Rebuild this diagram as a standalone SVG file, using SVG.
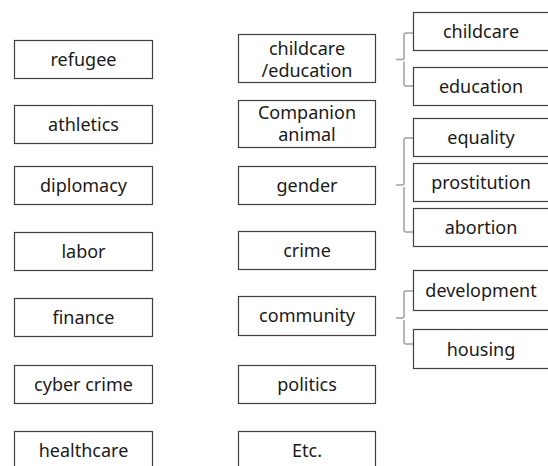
<svg xmlns="http://www.w3.org/2000/svg" width="548" height="466" viewBox="0 0 548 466">
<style>
.b{fill:#fff;stroke:#404040;stroke-width:1.2}
.t{font-family:"Noto Sans","Open Sans",sans-serif;font-size:18px;fill:#1a1a1a;text-anchor:middle}
.c{fill:none;stroke:#a0a0a0;stroke-width:1.5}
</style>
<rect width="548" height="466" fill="#fff"/>
<g id="connectors">
<path class="c" d="M396 59.5H402Q404 59.5 404 57.5V35Q404 33 406 33H413M404 61.5V84Q404 86 406 86H413"/>
<path class="c" d="M396 185H402Q404 185 404 183V140Q404 138 406 138H413M404 187V230Q404 232 406 232H413"/>
<path class="c" d="M396 318H402Q404 318 404 316V293Q404 291 406 291H413M404 320V342Q404 344 406 344H413"/>
</g>
<g id="refugee"><rect class="b" x="14.5" y="40.5" width="138" height="38"/><text class="t" x="83.5" y="66">refugee</text></g>
<g id="athletics"><rect class="b" x="14.5" y="105.5" width="138" height="38"/><text class="t" x="83.5" y="131">athletics</text></g>
<g id="diplomacy"><rect class="b" x="14.5" y="166.5" width="138" height="38"/><text class="t" x="83.5" y="192">diplomacy</text></g>
<g id="labor"><rect class="b" x="14.5" y="232.5" width="138" height="38"/><text class="t" x="83.5" y="258">labor</text></g>
<g id="finance"><rect class="b" x="14.5" y="298.5" width="138" height="38"/><text class="t" x="83.5" y="324">finance</text></g>
<g id="cybercrime"><rect class="b" x="14.5" y="365.5" width="138" height="38"/><text class="t" x="83.5" y="391">cyber crime</text></g>
<g id="healthcare"><rect class="b" x="14.5" y="431.5" width="138" height="40"/><text class="t" x="83.5" y="457">healthcare</text></g>
<g id="childcare-education"><rect class="b" x="238.5" y="34.5" width="137" height="48"/><text class="t" x="307" y="55">childcare</text><text class="t" x="307" y="77">/education</text></g>
<g id="companion-animal"><rect class="b" x="238.5" y="100.5" width="137" height="47"/><text class="t" x="307" y="119">Companion</text><text class="t" x="307" y="141">animal</text></g>
<g id="gender"><rect class="b" x="238.5" y="166.5" width="137" height="38"/><text class="t" x="307" y="192">gender</text></g>
<g id="crime"><rect class="b" x="238.5" y="231.5" width="137" height="38"/><text class="t" x="307" y="257">crime</text></g>
<g id="community"><rect class="b" x="238.5" y="296.5" width="137" height="39"/><text class="t" x="307" y="322">community</text></g>
<g id="politics"><rect class="b" x="238.5" y="365.5" width="137" height="38"/><text class="t" x="307" y="391">politics</text></g>
<g id="etc"><rect class="b" x="238.5" y="431.5" width="137" height="40"/><text class="t" x="307" y="457">Etc.</text></g>
<g id="childcare"><rect class="b" x="413.5" y="12.5" width="137" height="38"/><text class="t" x="481" y="38">childcare</text></g>
<g id="education"><rect class="b" x="413.5" y="67.5" width="137" height="38"/><text class="t" x="481" y="93">education</text></g>
<g id="equality"><rect class="b" x="413.5" y="118.5" width="137" height="38"/><text class="t" x="481" y="144">equality</text></g>
<g id="prostitution"><rect class="b" x="413.5" y="163.5" width="137" height="38"/><text class="t" x="481" y="189">prostitution</text></g>
<g id="abortion"><rect class="b" x="413.5" y="208.5" width="137" height="38"/><text class="t" x="481" y="234">abortion</text></g>
<g id="development"><rect class="b" x="413.5" y="270.5" width="137" height="40"/><text class="t" x="481" y="297">development</text></g>
<g id="housing"><rect class="b" x="413.5" y="329.5" width="137" height="39"/><text class="t" x="481" y="356">housing</text></g>
</svg>
